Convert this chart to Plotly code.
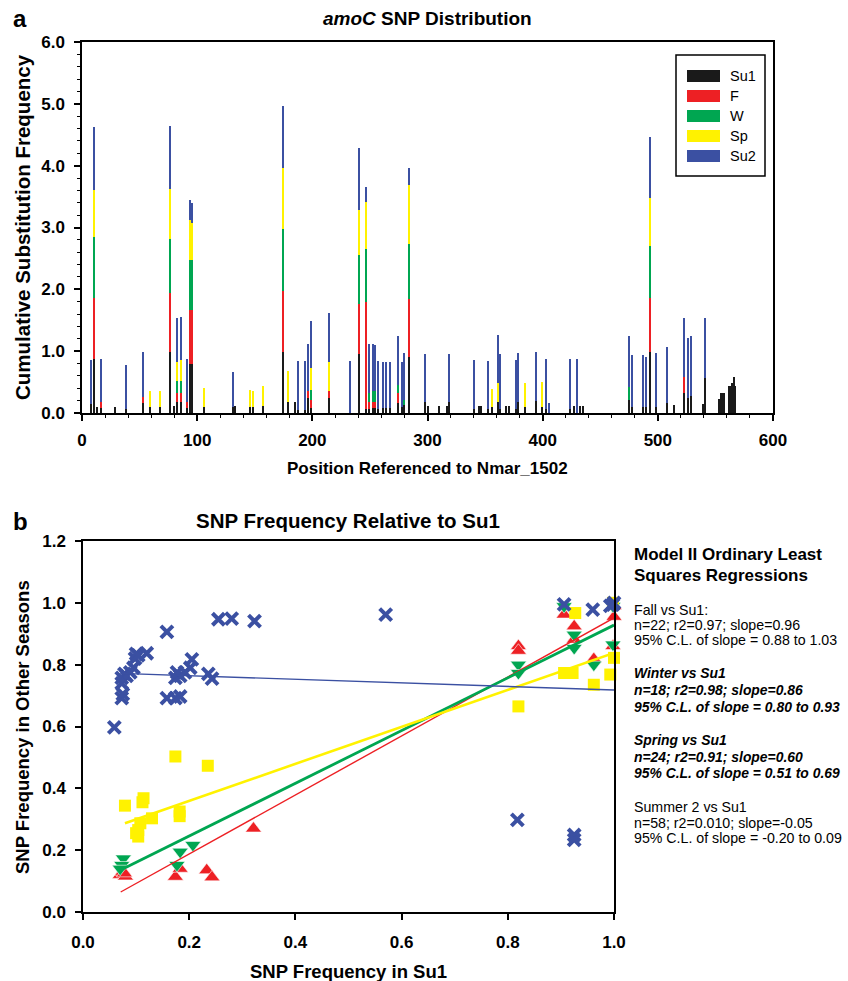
import plotly.graph_objects as go

W, H = 848, 981
FONT = "Liberation Sans, Arial, sans-serif"

# ---------------- Panel a data ----------------
positions = [8, 11, 13, 17, 29, 38, 53, 59, 68, 77,
             80, 83, 86, 91.5, 93.8, 95.3, 106, 131, 133, 146,
             149, 157, 175, 179, 185, 188, 194, 196.7, 199.3, 215,
             233, 241, 247, 249, 253, 255, 257, 262, 264, 268,
             275, 278, 280, 284, 298, 301, 310, 317, 319, 341,
             345, 347, 353, 356, 361, 363, 368, 371, 377, 379,
             385, 394, 400, 403, 406, 424, 427, 430, 433, 435,
             475, 478, 487, 490, 493, 499, 508, 514, 523, 526,
             529, 539, 541, 553.5, 555, 556.5, 558, 562, 563.5, 565, 566, 567]
su1 = [0.15, 0.88, 0.10, 0.08, 0.10, 0.06, 0.16, 0.10, 0.10, 0.99,
       0.11, 0.17, 0.17, 0.08, 0.80, 0.80, 0.10, 0.10, 0.11, 0.10,
       0.10, 0.11, 0.99, 0.17, 0.18, 0.05, 0.05, 0.24, 0.08, 0.24,
       0, 0.95, 0.07, 0.07, 0.08, 0.08, 0.07, 0.08, 0.08, 0.08,
       0.16, 0.10, 0.13, 0.91, 0.17, 0.11, 0.11, 0.11, 0.17, 0.07,
       0.11, 0.11, 0.07, 0.10, 0.17, 0.07, 0.11, 0.11, 0.07, 0.18,
       0.10, 0.20, 0.10, 0.07, 0, 0.07, 0.11, 0, 0.11, 0.11,
       0.21, 0.10, 0.10, 0.10, 0.99, 0.10, 0.16, 0.13, 0.32, 0.25,
       0.28, 0.14, 0.56, 0.22, 0.32, 0.32, 0.32, 0.43, 0.43, 0.48, 0.58, 0.43]
fall = [0, 0.98, 0, 0.10, 0, 0, 0.10, 0, 0, 0.95,
        0, 0.15, 0.15, 0.10, 0.87, 0.87, 0, 0, 0, 0,
        0, 0, 0.98, 0, 0, 0, 0, 0.11, 0.13, 0.12,
        0, 0.81, 1.72, 0.10, 0.10, 0.10, 0, 0, 0, 0,
        0.16, 0, 0, 0.93, 0, 0, 0, 0, 0, 0,
        0, 0, 0, 0, 0, 0, 0, 0, 0, 0,
        0, 0, 0, 0, 0, 0, 0, 0, 0, 0,
        0, 0, 0, 0, 0.87, 0, 0, 0, 0.27, 0,
        0, 0, 0, 0, 0, 0, 0, 0, 0, 0, 0, 0]
winter = [0, 0.98, 0, 0, 0, 0, 0, 0, 0, 0.88,
          0, 0.20, 0.20, 0, 0.81, 0.81, 0, 0, 0, 0,
          0, 0, 1.00, 0, 0, 0, 0, 0, 0.16, 0,
          0, 0.80, 0.86, 0.15, 0.17, 0.17, 0, 0, 0, 0,
          0.13, 0, 0.08, 0.89, 0, 0, 0, 0, 0, 0,
          0, 0, 0, 0, 0, 0, 0, 0, 0, 0,
          0, 0, 0, 0, 0, 0, 0, 0, 0, 0,
          0.21, 0, 0, 0, 0.84, 0, 0, 0, 0, 0,
          0, 0, 0, 0, 0, 0, 0, 0, 0, 0, 0, 0]
spring = [0, 0.77, 0, 0, 0, 0, 0, 0.26, 0.25, 0.81,
          0, 0.30, 0.33, 0, 0.64, 0.60, 0.30, 0, 0, 0.27,
          0.25, 0.32, 1.00, 0.51, 0, 0, 0, 0, 0.35, 0.47,
          0, 0.72, 0.76, 0, 0, 0, 0, 0, 0, 0,
          0, 0, 0, 0.96, 0, 0, 0, 0, 0, 0,
          0, 0, 0, 0.29, 0.31, 0, 0, 0, 0, 0,
          0.38, 0, 0.40, 0, 0, 0, 0, 0, 0, 0,
          0, 0, 0, 0, 0.77, 0, 0, 0, 0, 0,
          0, 0, 0, 0, 0, 0, 0, 0, 0, 0, 0, 0]
su2 = [0.70, 1.01, 0, 0.70, 0, 0.72, 0.72, 0, 0, 1.01,
       0, 0.71, 0.71, 0.70, 0.33, 0.31, 0, 0.56, 0, 0,
       0, 0, 1.00, 0, 0, 0.79, 0.79, 0.77, 0.77, 0.78,
       0.84, 1.00, 0.25, 0.80, 0.77, 0.75, 0.77, 0.74, 0.74, 0.74,
       0.79, 0.73, 0.76, 0.27, 0.78, 0, 0, 0, 0.78, 0.78,
       0, 0, 0.77, 0, 0.78, 0.88, 0, 0, 0.78, 0.79,
       0, 0.78, 0, 0.80, 0.16, 0.80, 0, 0.87, 0, 0,
       0.83, 0.83, 0.84, 0.81, 1.00, 0.87, 0.91, 0, 0.94, 0.96,
       0.96, 0, 0.97, 0, 0, 0, 0, 0, 0, 0, 0, 0]

season_names = ["Su1", "F", "W", "Sp", "Su2"]
season_colors = ["#1a1a1a", "#ED2024", "#00A651", "#FFF200", "#3B50A2"]
season_values = [su1, fall, winter, spring, su2]

# ---------------- Panel b data ----------------
fall_x = [0.070, 0.075, 0.080, 0.078, 0.174, 0.183, 0.233, 0.243, 0.321,
          0.820, 0.820, 0.906, 0.925, 0.925, 0.962, 1.000, 0.998, 1.000]
fall_y = [0.120, 0.130, 0.115, 0.125, 0.114, 0.140, 0.135, 0.112, 0.270,
          0.860, 0.845, 0.962, 0.924, 0.881, 0.818, 0.955, 0.860, 0.990]
winter_x = [0.076, 0.073, 0.070, 0.183, 0.177, 0.207,
            0.820, 0.820, 0.906, 0.925, 0.925, 0.962, 0.998, 0.998]
winter_y = [0.173, 0.152, 0.140, 0.195, 0.152, 0.217,
            0.800, 0.773, 0.989, 0.897, 0.854, 0.800, 0.865, 0.990]
spring_x = [0.079, 0.114, 0.112, 0.174, 0.235, 0.182, 0.182, 0.130, 0.108, 0.104, 0.104, 0.100,
            0.820, 0.906, 0.922, 0.927, 0.962, 0.993, 1.000, 0.998]
spring_y = [0.344, 0.368, 0.355, 0.503, 0.473, 0.325, 0.310, 0.303, 0.287, 0.265, 0.244, 0.255,
            0.665, 0.773, 0.773, 0.967, 0.735, 0.768, 0.822, 1.000]
summer2_x = [0.059, 0.073, 0.075, 0.073, 0.073, 0.078, 0.082, 0.089, 0.095, 0.098,
             0.100, 0.104, 0.120, 0.158, 0.158, 0.174, 0.183, 0.174, 0.183, 0.177,
             0.192, 0.202, 0.205, 0.236, 0.243, 0.255, 0.280, 0.323, 0.570, 0.818,
             0.906, 0.925, 0.925, 0.960, 0.993, 0.998, 1.000]
summer2_y = [0.597, 0.692, 0.705, 0.757, 0.740, 0.770, 0.764, 0.775, 0.790, 0.820,
             0.835, 0.830, 0.837, 0.906, 0.692, 0.692, 0.697, 0.757, 0.764, 0.775,
             0.775, 0.790, 0.817, 0.770, 0.755, 0.947, 0.949, 0.941, 0.962, 0.298,
             0.995, 0.249, 0.233, 0.978, 0.990, 0.994, 1.000]

fit_slope = [0.954, 0.853, 0.598, -0.058]
fit_intercept = [-0.003, 0.075, 0.240, 0.776]
fit_x_start = [0.071, 0.070, 0.079, 0.070]
fit_x_end = [1.0, 1.0, 1.0, 1.0]

stats_lines = [
    ("<b>Model II Ordinary Least</b>", 17),
    ("<b>Squares Regressions</b>", 17),
    ("Fall vs Su1:", 14.2),
    ("n=22; r2=0.97; slope=0.96", 14.2),
    ("95% C.L. of slope = 0.88 to 1.03", 14.2),
    ("<b><i>Winter vs Su1</i></b>", 13.9),
    ("<b><i>n=18; r2=0.98; slope=0.86</i></b>", 13.9),
    ("<b><i>95% C.L. of slope = 0.80 to 0.93</i></b>", 13.9),
    ("<b><i>Spring vs Su1</i></b>", 13.9),
    ("<b><i>n=24; r2=0.91; slope=0.60</i></b>", 13.9),
    ("<b><i>95% C.L. of slope = 0.51 to 0.69</i></b>", 13.9),
    ("Summer 2 vs Su1", 14.2),
    ("n=58; r2=0.010; slope=-0.05", 14.2),
    ("95% C.L. of slope = -0.20 to 0.09", 14.2),
]
stats_y_px = [554, 575, 610, 625, 640, 673, 690, 707, 740, 757, 773, 807, 823, 838]


def pxx(x):
    return x / W


def pxy(y):
    return 1 - y / H


fig = go.Figure()

for name, color, vals in zip(season_names, season_colors, season_values):
    fig.add_trace(go.Bar(x=positions, y=vals, name=name, width=1.3,
                         marker=dict(color=color, line=dict(width=0)),
                         xaxis="x", yaxis="y", showlegend=False))

# scatter markers
fig.add_trace(go.Scatter(x=fall_x, y=fall_y, mode="markers", xaxis="x2", yaxis="y2",
                         marker=dict(symbol="triangle-up", size=14, color="#ED2024",
                                     line=dict(color="white", width=0.6)),
                         cliponaxis=False, showlegend=False))
fig.add_trace(go.Scatter(x=winter_x, y=winter_y, mode="markers", xaxis="x2", yaxis="y2",
                         marker=dict(symbol="triangle-down", size=14, color="#00A651",
                                     line=dict(color="white", width=0.6)),
                         cliponaxis=False, showlegend=False))
fig.add_trace(go.Scatter(x=spring_x, y=spring_y, mode="markers", xaxis="x2", yaxis="y2",
                         marker=dict(symbol="square", size=12, color="#FFF200"),
                         cliponaxis=False, showlegend=False))
fig.add_trace(go.Scatter(x=summer2_x, y=summer2_y, mode="markers", xaxis="x2", yaxis="y2",
                         marker=dict(symbol="x-thin", size=12, color="#3B50A2",
                                     line=dict(color="#3B50A2", width=4)),
                         cliponaxis=False, showlegend=False))

fit_colors = ["#ED2024", "#00A651", "#FFF200", "#3B50A2"]
fit_widths = [1.4, 2.8, 2.6, 1.4]
for s, b, x0, x1, c, lw in zip(fit_slope, fit_intercept, fit_x_start, fit_x_end, fit_colors, fit_widths):
    fig.add_trace(go.Scatter(x=[x0, x1], y=[b + s * x0, b + s * x1], mode="lines",
                             xaxis="x2", yaxis="y2", line=dict(color=c, width=lw),
                             showlegend=False))

tickfont = dict(family=FONT, size=17, color="black", weight="bold")
axis_common = dict(showline=True, linecolor="black", linewidth=1.5, mirror=True,
                   ticks="outside", tickcolor="black", tickwidth=1.5, ticklen=6,
                   showgrid=False, zeroline=False, tickfont=tickfont, automargin=False)

fig.update_layout(
    template="none",
    width=W, height=H, margin=dict(l=0, r=0, t=0, b=0, autoexpand=False),
    paper_bgcolor="white", plot_bgcolor="white",
    barmode="stack", showlegend=False,
    xaxis=dict(domain=[82 / W, 773 / W], anchor="y", range=[0, 600], dtick=100,
               ticklabelstandoff=5,
               minor=dict(dtick=20, ticks="outside", ticklen=3, tickcolor="black", tickwidth=1),
               **axis_common),
    yaxis=dict(domain=[pxy(413), pxy(42)], anchor="x", range=[0, 6], dtick=1,
               tickformat=".1f", ticklabelstandoff=6,
               minor=dict(dtick=0.2, ticks="outside", ticklen=3, tickcolor="black", tickwidth=1),
               **axis_common),
    xaxis2=dict(domain=[83 / W, 614 / W], anchor="y2", range=[0, 1.0], dtick=0.2,
                tickformat=".1f", ticklabelstandoff=8, **axis_common),
    yaxis2=dict(domain=[pxy(912), pxy(541)], anchor="x2", range=[0, 1.2], dtick=0.2,
                tickformat=".1f", ticklabelstandoff=6, **axis_common),
)

annotations = []


def add_text(text, x, y, size, bold=True, xanchor="center", angle=0, family=FONT):
    annotations.append(dict(text=text, x=pxx(x), y=pxy(y), xref="paper", yref="paper",
                            showarrow=False, xanchor=xanchor, yanchor="middle",
                            textangle=angle,
                            font=dict(family=family, size=size, color="black",
                                      weight="bold" if bold else "normal")))


add_text("a", 20, 18, 24)
add_text("b", 20, 521, 24)
add_text("<i>amoC</i> SNP Distribution", 427, 18, 19)
add_text("Cumulative Substitution Frequency", 22, 227, 20.5, angle=-90)
add_text("Position Referenced to Nmar_1502", 427, 468, 17)
add_text("SNP Frequency Relative to Su1", 348, 520, 20.5)
add_text("SNP Frequency in Other Seasons", 22, 727, 18.5, angle=-90)
add_text("SNP Frequency in Su1", 348, 971, 18.5)

for (txt, size), ypx in zip(stats_lines, stats_y_px):
    add_text(txt, 632, ypx, size, bold=False, xanchor="left")

# legend (manual, boxed)
shapes = [dict(type="rect", xref="paper", yref="paper",
               x0=pxx(676), x1=pxx(765), y0=pxy(176), y1=pxy(55),
               line=dict(color="black", width=1.5), fillcolor="white", layer="above")]
legend_rows = [76, 96, 116, 136, 156]
for name, color, ry in zip(season_names, season_colors, legend_rows):
    shapes.append(dict(type="rect", xref="paper", yref="paper",
                       x0=pxx(687), x1=pxx(720), y0=pxy(ry + 6), y1=pxy(ry - 6),
                       line=dict(width=0), fillcolor=color, layer="above"))
    add_text(name, 728, ry, 14.5, bold=False, xanchor="left")

fig.update_layout(annotations=annotations, shapes=shapes)
fig.write_html("out.html", config={"displayModeBar": False},
               post_script="document.body.style.margin='0';document.body.style.overflow='hidden';")
